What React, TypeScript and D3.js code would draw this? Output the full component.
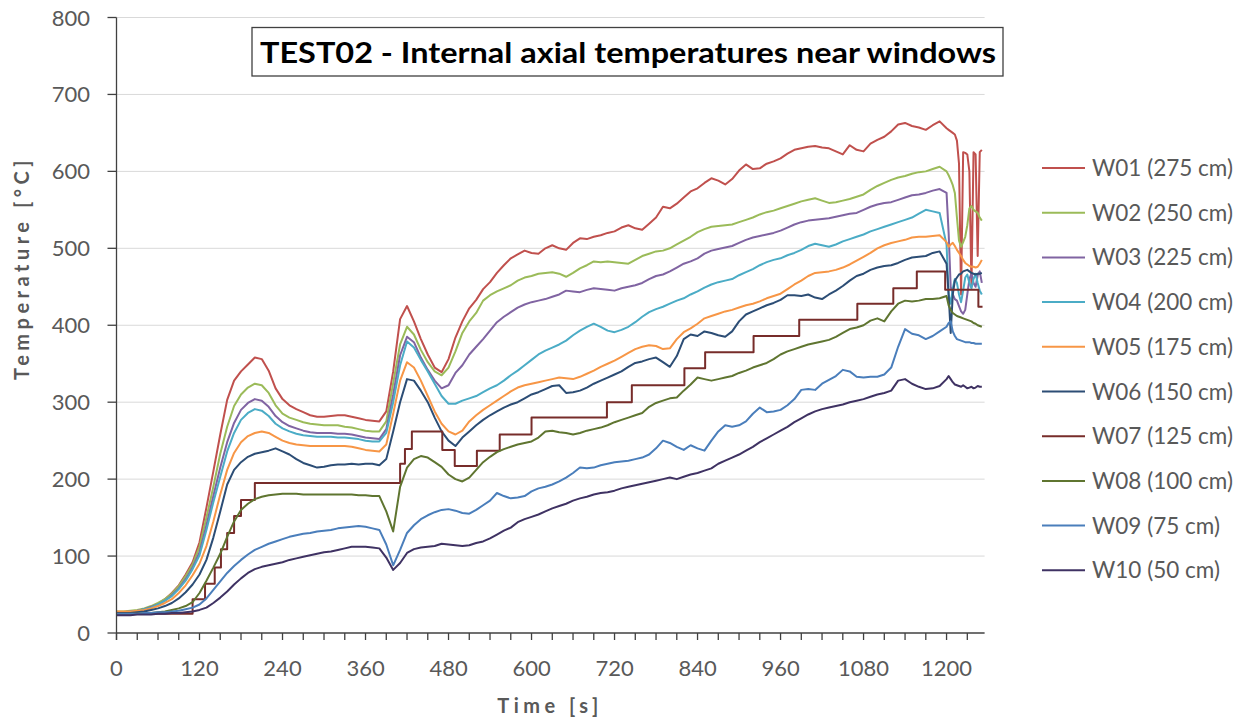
import React from 'react'
import * as d3 from 'd3'

// sample times [s]: regular 10 s grid to 1200, then the denser tail
const times = [
  0, 10, 20, 30, 40, 50, 60, 70, 80, 90,
  100, 110, 120, 130, 140, 150, 160, 170, 180, 190,
  200, 210, 220, 230, 240, 250, 260, 270, 280, 290,
  300, 310, 320, 330, 340, 350, 360, 370, 380, 390,
  400, 410, 420, 430, 440, 450, 460, 470, 480, 490,
  500, 510, 520, 530, 540, 550, 560, 570, 580, 590,
  600, 610, 620, 630, 640, 650, 660, 670, 680, 690,
  700, 710, 720, 730, 740, 750, 760, 770, 780, 790,
  800, 810, 820, 830, 840, 850, 860, 870, 880, 890,
  900, 910, 920, 930, 940, 950, 960, 970, 980, 990,
  1000, 1010, 1020, 1030, 1040, 1050, 1060, 1070, 1080, 1090,
  1100, 1110, 1120, 1130, 1140, 1150, 1160, 1170, 1180, 1190,
  1200,
  1203, 1206, 1209, 1212, 1215, 1218, 1221, 1224, 1227, 1230,
  1233, 1236, 1239, 1242, 1245, 1248, 1251,
]

const w01 = [
  27, 27, 28, 29, 31, 34, 38, 44, 52, 62,
  76, 92, 118, 163, 210, 258, 303, 328, 340, 349,
  358, 356, 341, 318, 304, 296, 291, 287, 283, 281,
  281, 282, 283, 283, 281, 279, 277, 276, 275, 288,
  340, 408, 425, 405, 382, 362, 345, 339, 356, 384,
  405, 422, 433, 447, 456, 468, 478, 487, 492, 497,
  494, 493, 500, 504, 500, 498, 507, 513, 512, 515,
  517, 520, 522, 527, 530, 526, 524, 532, 540, 554,
  552, 558, 566, 574, 578, 585, 591, 588, 583, 590,
  601, 609, 603, 604, 610, 613, 617, 623, 628, 630,
  632, 633, 631, 630, 626, 622, 634, 628, 626, 636,
  641, 645, 652, 661, 663, 659, 657, 654, 660, 665,
  656,
  654, 652, 650, 648, 640, 610, 440, 625, 624, 622,
  600, 450, 625, 622, 490, 625, 628,
]

const w02 = [
  28, 28, 29, 30, 32, 35, 39, 44, 51, 61,
  74, 89, 112, 150, 190, 233, 268, 295, 310, 319,
  324, 322, 312, 296, 285, 280, 277, 274, 272, 271,
  270, 270, 270, 268, 267, 265, 263, 262, 262, 275,
  325, 375, 398, 388, 368, 352, 340, 335, 345, 366,
  390, 405, 416, 432, 439, 444, 448, 452, 458, 462,
  464, 467, 468, 469, 467, 463, 468, 474, 478, 483,
  482, 483, 482, 481, 480, 485, 490, 493, 496, 497,
  500, 505, 510, 515, 521, 525, 528, 529, 530, 531,
  534, 537, 540, 544, 547, 549, 552, 555, 558, 561,
  563, 565, 562, 559, 560, 562, 564, 567, 570, 576,
  581, 585, 589, 592, 594, 597, 599, 600, 603, 606,
  600,
  595, 589, 582, 572, 540, 510, 502, 508, 515, 530,
  552, 555, 550, 548, 546, 540, 536,
]

const w03 = [
  27, 27, 28, 29, 31, 34, 37, 42, 49, 58,
  70, 85, 105, 140, 178, 215, 248, 273, 290, 299,
  304, 302, 294, 282, 274, 269, 266, 263, 261, 260,
  260, 260, 259, 259, 258, 256, 254, 253, 252, 265,
  310, 361, 385, 378, 358, 342, 328, 318, 322, 338,
  348, 362, 372, 382, 393, 404, 411, 417, 423, 427,
  430, 432, 434, 437, 440, 445, 444, 443, 446, 448,
  447, 446, 445, 448, 450, 452, 455, 460, 464, 466,
  470, 475, 480, 483, 487, 493, 497, 499, 501, 503,
  507, 511, 514, 516, 518, 520, 523, 527, 531, 534,
  536, 537, 538, 539, 541, 543, 545, 546, 550, 554,
  557, 559, 560, 563, 566, 569, 570, 572, 575, 577,
  572,
  520, 450, 440, 434, 432, 425, 418, 415, 420, 440,
  460, 467, 455, 450, 465, 470, 455,
]

const w04 = [
  27, 27, 28, 29, 31, 33, 37, 42, 48, 57,
  68, 83, 101, 134, 170, 203, 236, 260, 277, 286,
  291, 289, 282, 272, 266, 262, 259, 257, 256, 255,
  255, 255, 254, 254, 253, 252, 250, 249, 249, 260,
  300, 348, 379, 371, 355, 340, 324, 308, 298, 298,
  302, 305, 308, 313, 318, 322, 328, 335, 341, 348,
  355, 362, 367, 371, 375, 380, 387, 393, 398, 402,
  398, 393, 391, 394, 398, 404, 411, 417, 421, 424,
  428, 432, 435, 440, 444, 449, 453, 456, 458, 460,
  465, 469, 473, 478, 482, 485, 487, 491, 494, 498,
  503, 506, 504, 502, 505, 509, 512, 515, 518, 522,
  525, 528, 531, 534, 537, 540, 545, 550, 548, 546,
  505,
  440, 428, 448, 460, 455, 440, 430, 445, 462, 466,
  455, 448, 460, 467, 455, 445, 440,
]

const w05 = [
  28, 28, 28, 29, 30, 32, 35, 39, 44, 52,
  62, 75, 90, 113, 145, 180, 212, 234, 248, 256,
  260, 262, 260, 255, 250, 247, 245, 244, 243, 243,
  243, 243, 243, 243, 242, 240, 238, 237, 236, 245,
  285, 328, 352, 345, 328, 308, 288, 272, 262, 258,
  263, 275, 283, 290, 296, 302, 308, 314, 319, 322,
  324, 326, 328, 330, 332, 331, 330, 333, 337, 341,
  346, 350, 354, 359, 364, 369, 372, 374, 373, 369,
  370, 382, 391, 396, 402, 409, 412, 415, 418, 420,
  423, 426, 428, 431, 435, 438, 441, 447, 453, 458,
  464, 468, 469, 470, 472, 475, 479, 484, 489, 494,
  500, 504, 507, 509, 511, 514, 515, 515, 516, 517,
  508,
  502, 505, 507, 503, 498, 494, 490, 485, 481, 479,
  477, 476, 476, 475, 476, 480, 485,
]

const w06 = [
  26, 26, 26, 27, 28, 30, 32, 35, 39, 45,
  53, 63, 76, 95, 124, 158, 193, 212, 222, 229,
  233, 235, 237, 240, 236, 232, 226, 221, 218, 215,
  216, 218, 219, 219, 220, 219, 220, 220, 218, 226,
  262, 300, 330, 328, 315, 300, 280, 262, 250, 243,
  254, 262, 270, 277, 283, 288, 293, 297, 300, 305,
  310, 313, 317, 321, 322, 312, 313, 315, 319, 324,
  328, 332, 336, 340, 346, 351, 353, 356, 358, 352,
  346, 360, 382, 388, 386, 392, 390, 387, 385, 392,
  405, 414, 418, 422, 426, 429, 433, 439, 439, 438,
  440, 436, 434, 440, 445, 451, 458, 464, 467, 472,
  475, 477, 478, 481, 485, 488, 489, 490, 494, 496,
  480,
  440, 390, 440, 458, 462, 466, 467, 470, 471, 472,
  470, 468, 467, 466, 467, 467, 468,
]

// W07 is recorded as a step signal: change times and held levels
const w07Times = [
  0, 110, 128, 142, 151, 160, 170, 180, 200, 410,
  417, 427, 471, 489, 521, 554, 600, 709, 745, 821,
  851, 921, 987, 1071, 1123, 1157, 1198, 1246, 1252,
]
const w07 = [
  25, 44, 64, 85, 109, 130, 152, 173, 195, 220,
  239, 262, 238, 217, 237, 258, 280, 300, 322, 344,
  365, 386, 407, 428, 448, 470, 446, 424, 424,
]

const w08 = [
  25, 25, 25, 25, 26, 26, 27, 28, 30, 32,
  35, 40, 52, 68, 85, 103, 125, 145, 160, 168,
  174, 177, 179, 180, 181, 181, 181, 180, 180, 180,
  180, 180, 180, 180, 180, 179, 179, 178, 178, 158,
  132, 190, 215, 226, 230, 228, 222, 216, 206, 200,
  197, 202, 212, 222, 229, 235, 239, 242, 245, 247,
  249, 254, 262, 263, 261, 260, 258, 260, 263, 265,
  267, 270, 274, 277, 280, 283, 286, 294, 299, 302,
  305, 306, 315, 323, 332, 330, 328, 330, 332, 334,
  338, 341, 345, 348, 351, 356, 362, 366, 369, 372,
  375, 377, 379, 381, 385, 390, 395, 397, 400, 406,
  409, 405, 418, 428, 432, 431, 432, 434, 434, 435,
  438,
  426, 420, 416, 414, 412, 411, 410, 409, 408, 407,
  406, 405, 403, 402, 400, 399, 398,
]

const w09 = [
  25, 25, 25, 25, 26, 26, 27, 27, 28, 29,
  31, 33, 37, 45, 56, 67, 78, 87, 95, 102,
  108, 112, 116, 119, 122, 125, 127, 129, 130, 132,
  133, 134, 136, 137, 138, 139, 138, 136, 134, 115,
  88, 108, 130, 140, 148, 153, 157, 160, 161, 159,
  156, 155, 160, 166, 172, 182, 178, 175, 176, 178,
  184, 188, 190, 193, 197, 202, 208, 215, 214, 215,
  218, 220, 222, 223, 224, 226, 228, 232, 240, 250,
  247, 242, 238, 244, 240, 237, 250, 262, 270, 268,
  270, 275, 285, 293, 287, 288, 290, 296, 304, 316,
  317, 316, 324, 329, 334, 342, 340, 333, 332, 333,
  333, 336, 345, 372, 395, 389, 387, 382, 386, 392,
  398,
  403, 405, 392, 386, 382, 381, 380, 379, 378, 378,
  378, 377, 377, 376, 376, 376, 376,
]

const w10 = [
  23, 23, 23, 24, 24, 24, 25, 25, 26, 26,
  27, 28, 30, 33, 39, 46, 54, 63, 71, 78,
  83, 86, 88, 90, 92, 95, 97, 99, 101, 103,
  105, 106, 108, 110, 112, 112, 112, 111, 110, 98,
  82, 91, 104, 109, 111, 112, 113, 116, 115, 114,
  113, 114, 117, 119, 123, 128, 133, 137, 144, 148,
  151, 154, 158, 162, 165, 168, 172, 175, 177, 180,
  182, 183, 185, 188, 190, 192, 194, 196, 198, 200,
  202, 200, 203, 206, 208, 211, 214, 220, 224, 228,
  232, 237, 242, 248, 253, 258, 263, 268, 274, 279,
  284, 288, 291, 293, 295, 297, 300, 302, 304, 307,
  310, 312, 315, 328, 330, 324, 320, 317, 318, 321,
  330,
  334, 330, 326, 323, 322, 321, 320, 322, 320, 318,
  319, 320, 318, 319, 321, 320, 320,
]

const seriesNames = [
  'W01 (275 cm)', 'W02 (250 cm)', 'W03 (225 cm)', 'W04 (200 cm)', 'W05 (175 cm)',
  'W06 (150 cm)', 'W07 (125 cm)', 'W08 (100 cm)', 'W09 (75 cm)', 'W10 (50 cm)',
]
const seriesColors = [
  '#c0504d', '#9bbb59', '#8064a2', '#4bacc6', '#f79646',
  '#2c4d75', '#772c2a', '#5f7530', '#4a7ebb', '#3f3263',
]

const yTicks = [0, 100, 200, 300, 400, 500, 600, 700, 800]
const xLabels = [0, 120, 240, 360, 480, 600, 720, 840, 960, 1080, 1200]

const title = 'TEST02 - Internal axial temperatures near windows'
const font = 'Lato, "Open Sans", sans-serif'
const gray = '#595959'

export default function App() {
  const x = d3.scaleLinear().domain([0, 1255]).range([116.5, 984.6])
  const y = d3.scaleLinear().domain([0, 800]).range([633, 17.5])
  const xMinor = d3.range(0, 1255, 30)

  const line = d3.line<number>()
    .x((_, i) => x(times[i]))
    .y(d => y(d))
  const step = d3.line<number>()
    .x((_, i) => x(w07Times[i]))
    .y(d => y(d))
    .curve(d3.curveStepAfter)

  const series = [w01, w02, w03, w04, w05, w06, null, w08, w09, w10]
  const [x0, x1] = x.range()

  return (
    <div style={{ position: 'absolute', left: 0, top: 0 }}>
      <svg width={1252} height={722} style={{ display: 'block', background: '#fff' }} fontFamily={font}>
        {/* grid */}
        {yTicks.slice(1).map(t => (
          <line key={t} x1={x0} x2={x1} y1={y(t)} y2={y(t)} stroke="#d9d9d9" strokeWidth={1} />
        ))}

        {/* series */}
        {series.map((s, i) => (
          <path
            key={i}
            d={(s ? line(s) : step(w07)) || ''}
            fill="none"
            stroke={seriesColors[i]}
            strokeWidth={2}
            strokeLinejoin="round"
          />
        ))}

        {/* y axis */}
        <line x1={x0} x2={x0} y1={y(800)} y2={640} stroke="#404040" strokeWidth={1.3} />
        {yTicks.map(t => (
          <g key={t}>
            <line x1={x0 - 9} x2={x0} y1={y(t)} y2={y(t)} stroke="#404040" strokeWidth={1.3} />
            <text x={90} y={y(t) + 8} textAnchor="end" fontSize={22} fill={gray}>{t}</text>
          </g>
        ))}

        {/* x axis */}
        <line x1={x0} x2={x1} y1={y(0)} y2={y(0)} stroke="#404040" strokeWidth={1.3} />
        {xMinor.map(t => (
          <line key={t} x1={x(t)} x2={x(t)} y1={y(0)} y2={y(0) + 7} stroke="#404040" strokeWidth={1.3} />
        ))}
        {xLabels.map(t => (
          <text key={t} x={x(t)} y={676} textAnchor="middle" fontSize={22} fill={gray}>{t}</text>
        ))}

        {/* axis titles */}
        <text
          transform="translate(29,268) rotate(-90)"
          textAnchor="middle"
          fontSize={20}
          fontWeight="bold"
          letterSpacing={4.5}
          fill={gray}
        >
          Temperature [°C]
        </text>
        <text x={550} y={713} textAnchor="middle" fontSize={20} fontWeight="bold" letterSpacing={4.5} fill={gray}>
          Time [s]
        </text>

        {/* title box */}
        <rect x={252} y={27.5} width={751} height={48.5} fill="#fff" stroke="#404040" strokeWidth={1.3} />
        <text
          x={260}
          y={63}
          fontSize={28}
          fontWeight="bold"
          fill="#000"
          textLength={736}
          lengthAdjust="spacingAndGlyphs"
        >
          {title}
        </text>

        {/* legend */}
        {seriesNames.map((name, i) => {
          const ly = 168 + i * 44.7
          return (
            <g key={name}>
              <line x1={1042} x2={1085} y1={ly} y2={ly} stroke={seriesColors[i]} strokeWidth={2} />
              <text x={1092} y={ly + 8} fontSize={22.5} fill={gray}>{name}</text>
            </g>
          )
        })}
      </svg>
    </div>
  )
}
